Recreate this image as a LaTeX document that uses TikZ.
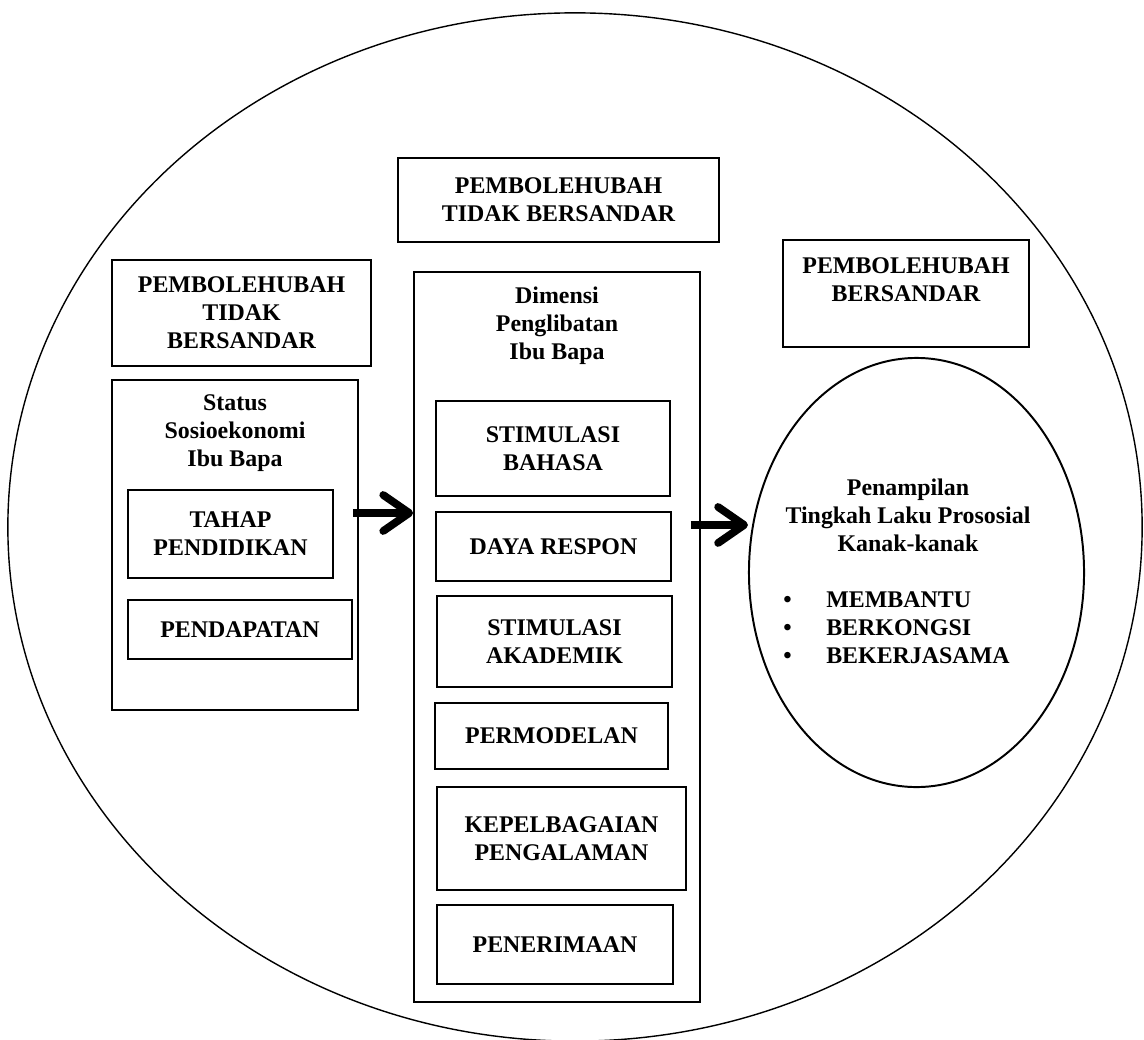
\documentclass[tikz,border=0pt]{standalone}
\usepackage{fontspec}
\setmainfont{Liberation Serif}
\usetikzlibrary{shapes,arrows.meta}

\begin{document}
\begin{tikzpicture}[x=0.025cm,y=-0.025cm]
\tikzstyle{every node}=[font=\fontsize{17}{19.9}\selectfont\bfseries, align=center, inner sep=0pt]
\tikzstyle{kotak}=[draw, rectangle, line width=1.2pt]
\tikzstyle{panah}=[line width=5.5pt, -{Straight Barb[length=0.65cm,width=0.9cm,round]}]
\useasboundingbox (0,0) rectangle (1144,1039);
\draw[line width=1pt] (575,527) ellipse [x radius=14.175cm, y radius=12.85cm];

\node[kotak, minimum width=8.025cm, minimum height=2.1cm] (atas) at (558.5,200) {PEMBOLEHUBAH\\TIDAK BERSANDAR};
\node[kotak, minimum width=6.475cm, minimum height=2.65cm] (kiri) at (241.5,313) {PEMBOLEHUBAH\\TIDAK\\BERSANDAR};

% status sosioekonomi
\node[kotak, minimum width=6.15cm, minimum height=8.25cm] (ses) at (235,545) {};
\node (sesT) at (235,433) {Status\\Sosioekonomi\\Ibu Bapa};
\node[kotak, minimum width=5.125cm, minimum height=2.2cm] (tahap) at (230.5,534) {TAHAP\\PENDIDIKAN};
\node[kotak, minimum width=5.6cm, minimum height=1.475cm] (pendapatan) at (240,629.5) {PENDAPATAN};

% dimensi penglibatan
\node[kotak, minimum width=7.15cm, minimum height=18.25cm] (dimensi) at (557,637) {};
\node (dimensiT) at (557,326) {Dimensi\\Penglibatan\\Ibu Bapa};
\node[kotak, minimum width=5.85cm, minimum height=2.375cm] (bahasa) at (553,448.5) {STIMULASI\\BAHASA};
\node[kotak, minimum width=5.875cm, minimum height=1.725cm] (respon) at (553.5,546.5) {DAYA RESPON};
\node[kotak, minimum width=5.875cm, minimum height=2.275cm] (akademik) at (554.5,641.5) {STIMULASI\\AKADEMIK};
\node[kotak, minimum width=5.825cm, minimum height=1.65cm] (permodelan) at (551.5,736) {PERMODELAN};
\node[kotak, minimum width=6.225cm, minimum height=2.575cm] (pengalaman) at (561.5,838.5) {KEPELBAGAIAN\\PENGALAMAN};
\node[kotak, minimum width=5.9cm, minimum height=1.975cm] (penerimaan) at (555,944.5) {PENERIMAAN};

% pembolehubah bersandar
\node[kotak, minimum width=6.15cm, minimum height=2.675cm] (bersandar) at (906,293.5) {};
\node (bersandarT) at (906,280) {PEMBOLEHUBAH\\BERSANDAR};
\node[draw, ellipse, line width=1.4pt, minimum width=8.375cm, minimum height=10.725cm] (hasil) at (916.5,572.5) {};
\node (hasilT) at (908,515) {Penampilan\\Tingkah Laku Prososial\\Kanak-kanak};
\node[align=left, anchor=west] (hasilL) at (783,628) {\makebox[1.075cm][l]{\textbullet}MEMBANTU\\
  \makebox[1.075cm][l]{\textbullet}BERKONGSI\\
  \makebox[1.075cm][l]{\textbullet}BEKERJASAMA};

\coordinate (pangkalA) at ([xshift=-0.15cm,yshift=0.8cm]ses.east);
\coordinate (pangkalB) at ([xshift=-0.25cm,yshift=2.8cm]dimensi.east);
\draw[panah] (pangkalA) -- (pangkalA -| dimensi.west);
\draw[panah] (pangkalB) -- (pangkalB -| hasil.west);
\end{tikzpicture}
\end{document}
